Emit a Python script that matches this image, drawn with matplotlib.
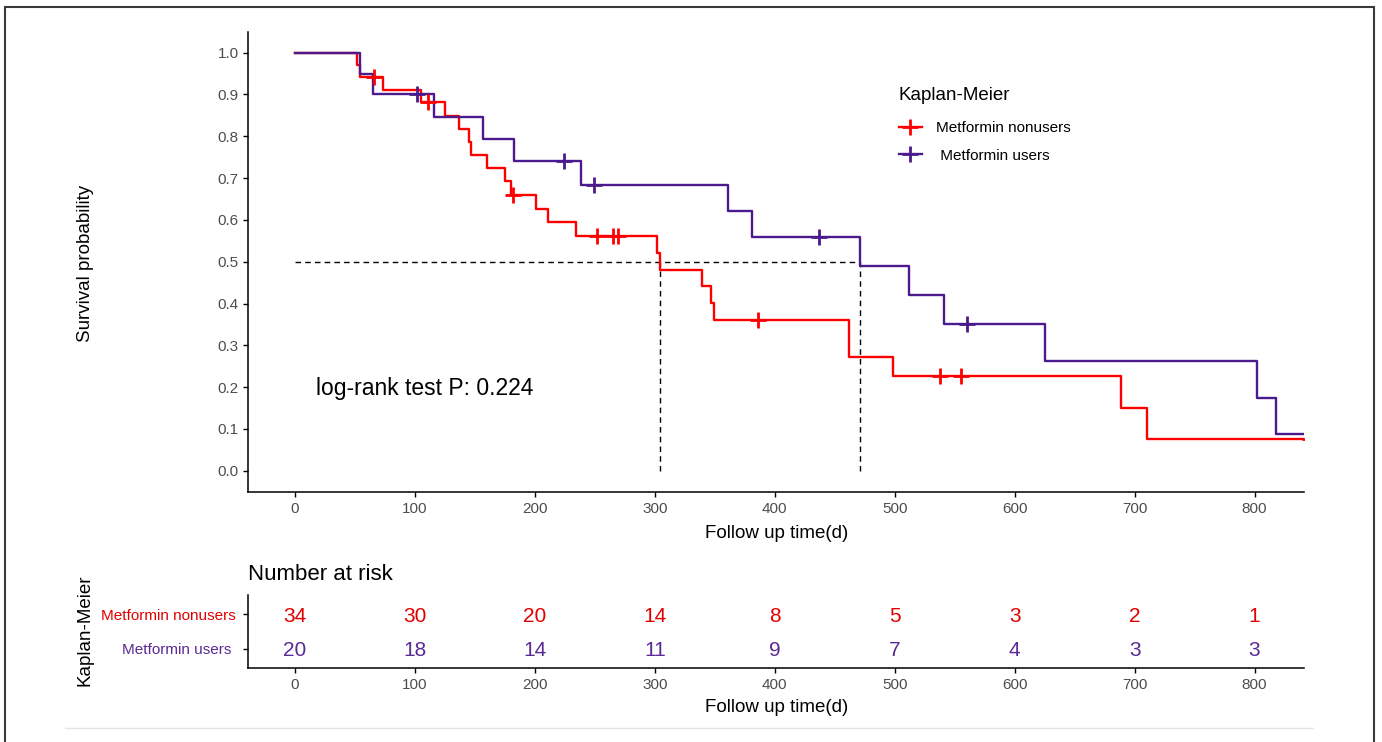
import numpy as np
import matplotlib
matplotlib.use("Agg")
import matplotlib.pyplot as plt
from matplotlib.lines import Line2D
from matplotlib.patches import Rectangle

plt.rcParams['font.family'] = ['Liberation Sans', 'DejaVu Sans']

# ---------------- data ----------------
groups = ["Metformin nonusers", "Metformin users"]
legend_labels = ["Metformin nonusers", " Metformin users"]
legend_title = "Kaplan-Meier"

# Kaplan-Meier step curve, nonusers (time of step, survival after step)
non_times = [0, 52, 54, 73.6, 105, 124.7, 137, 145, 146.5, 160, 175, 180,
             200.8, 210.6, 234, 302, 304, 339, 347, 349, 461.7, 498.6, 689, 710.6]
non_surv = [1.0, 0.971, 0.941, 0.911, 0.881, 0.849, 0.818, 0.786, 0.755, 0.723,
            0.692, 0.660, 0.627, 0.594, 0.561, 0.521, 0.481, 0.441, 0.401, 0.361,
            0.271, 0.226, 0.151, 0.075]
non_censor = [65.5, 111, 182, 252, 265, 269, 386, 537.5, 555, 846]

# Kaplan-Meier step curve, users
use_times = [0, 54.4, 64.7, 115.6, 157, 182.8, 238, 361, 380.6, 471, 512, 541,
             625, 802, 818]
use_surv = [1.0, 0.95, 0.90, 0.847, 0.794, 0.741, 0.684, 0.622, 0.560, 0.490,
            0.420, 0.350, 0.2625, 0.175, 0.0875]
use_censor = [102, 224.4, 249, 437, 560]

follow_end = 850

risk_times = [0, 100, 200, 300, 400, 500, 600, 700, 800]
risk_non = [34, 30, 20, 14, 8, 5, 3, 2, 1]
risk_use = [20, 18, 14, 11, 9, 7, 4, 3, 3]

pval_text = "log-rank test P: 0.224"

# ---------------- style ----------------
RED = "#FF0000"
PURPLE = "#4B1A8C"
RED_TXT = "#E00000"
PURPLE_TXT = "#5A2A94"
TICK_C = "#4D4D4D"

W, H = 1382, 742
fig = plt.figure(figsize=(W / 100, H / 100), dpi=100)

def fx(px):
    return px / W

def fy(py):
    return 1 - py / H

# main axes
ax = fig.add_axes([fx(248.3), fy(491.7), fx(1304.3) - fx(248.3), fy(31.7) - fy(491.7)])
# risk table
axr = fig.add_axes([fx(248.3), fy(667.7), fx(1304.3) - fx(248.3), fy(595) - fy(667.7)])

XLIM = (-39, 841.5)

def step_value(times, surv, t):
    idx = np.searchsorted(np.asarray(times), t, side='right') - 1
    return np.asarray(surv)[idx]

def median_time(times, surv):
    for t, s in zip(times, surv):
        if s <= 0.5:
            return t
    return None

# median lines
med_non = median_time(non_times, non_surv)
med_use = median_time(use_times, use_surv)
dash = dict(color="black", lw=1.0, ls=(0, (4, 3)), zorder=1)
ax.plot([0, max(med_non, med_use)], [0.5, 0.5], **dash)
ax.plot([med_non, med_non], [0, 0.5], **dash)
ax.plot([med_use, med_use], [0, 0.5], **dash)

MS, MEW = 11, 2.0
# curves
for times, surv, cens, col in [(non_times, non_surv, non_censor, RED),
                               (use_times, use_surv, use_censor, PURPLE)]:
    tt = list(times) + [follow_end]
    ss = list(surv) + [surv[-1]]
    ax.step(tt, ss, where='post', color=col, lw=1.7, zorder=3)
    cy = [step_value(times, surv, c) for c in cens]
    ax.plot(cens, cy, ls='none', marker='+', ms=MS, mew=MEW, color=col, zorder=4)

ax.set_xlim(*XLIM)
ax.set_ylim(-0.05, 1.05)
ax.set_xticks(risk_times)
ax.set_yticks(np.round(np.arange(0, 1.01, 0.1), 1))
ax.set_yticklabels([f"{v:.1f}" for v in np.arange(0, 1.01, 0.1)])
for a in (ax, axr):
    for s in ("top", "right"):
        a.spines[s].set_visible(False)
    for s in ("left", "bottom"):
        a.spines[s].set_linewidth(1.1)
    a.tick_params(length=3.5, width=1.0, labelsize=11, colors="black", labelcolor=TICK_C)
    a.set_facecolor("none")
ax.tick_params(axis='x', pad=4)
ax.tick_params(axis='y', pad=3.5)

ax.set_xlabel("Follow up time(d)", fontsize=13.5)
ax.xaxis.label.set_va('center')
ax.xaxis.set_label_coords(0.5, (491.7 - 533) / 460)
ax.set_ylabel("Survival probability", fontsize=13.5)
ax.yaxis.label.set_va('center')
ax.yaxis.set_label_coords((85 - 248.3) / 1056, (491.7 - 263) / 460)

ax.text(17.2, 0.196, pval_text, fontsize=16.5, ha='left', va='center')

handles = [Line2D([], [], color=RED, lw=1.7, marker='+', ms=MS, mew=MEW),
           Line2D([], [], color=PURPLE, lw=1.7, marker='+', ms=MS, mew=MEW)]
leg = ax.legend(handles, legend_labels, loc='upper left',
                bbox_to_anchor=(fx(899), fy(121)), bbox_transform=fig.transFigure,
                frameon=False, fontsize=11, borderpad=0,
                borderaxespad=0, handlelength=1.5, handletextpad=0.9,
                labelspacing=0.9, numpoints=1)
fig.text(fx(899), fy(96), legend_title, fontsize=13.5, ha='left', va='center')

# risk table
axr.set_xlim(*XLIM)
axr.set_ylim(0.46, 2.556)
axr.set_xticks(risk_times)
axr.set_yticks([2, 1])
axr.set_yticklabels(["Metformin nonusers", "Metformin users "])
tl = axr.get_yticklabels()
tl[0].set_color(RED_TXT)
tl[1].set_color(PURPLE_TXT)
axr.tick_params(axis='y', pad=5.5)
axr.tick_params(axis='x', pad=4)
for t, n, u in zip(risk_times, risk_non, risk_use):
    axr.text(t, 1.95, str(n), color=RED_TXT, fontsize=15, ha='center', va='center')
    axr.text(t, 0.97, str(u), color=PURPLE_TXT, fontsize=15, ha='center', va='center')
axr.set_xlabel("Follow up time(d)", fontsize=13.5)
axr.xaxis.label.set_va('center')
axr.xaxis.set_label_coords(0.5, (667.7 - 708) / 72.7)
axr.set_ylabel("Kaplan-Meier", fontsize=13.5)
axr.yaxis.label.set_va('center')
axr.yaxis.set_label_coords((85 - 248.3) / 1056, (667.7 - 630) / 72.7)
axr.text(0.0, (667.7 - 575) / 72.7, "Number at risk", transform=axr.transAxes,
         fontsize=16, ha='left', va='center')

# decorations: faint separator & outer frame
fig.add_artist(Line2D([fx(65), fx(1313)], [fy(728), fy(728)], color="#E6E6E6", lw=1.0))
fig.add_artist(Rectangle((fx(5), -0.05), fx(1374) - fx(5), fy(7) + 0.05,
                         fill=False, edgecolor="#3A3A3A", lw=1.5))

fig.savefig("out.png", dpi=100)
